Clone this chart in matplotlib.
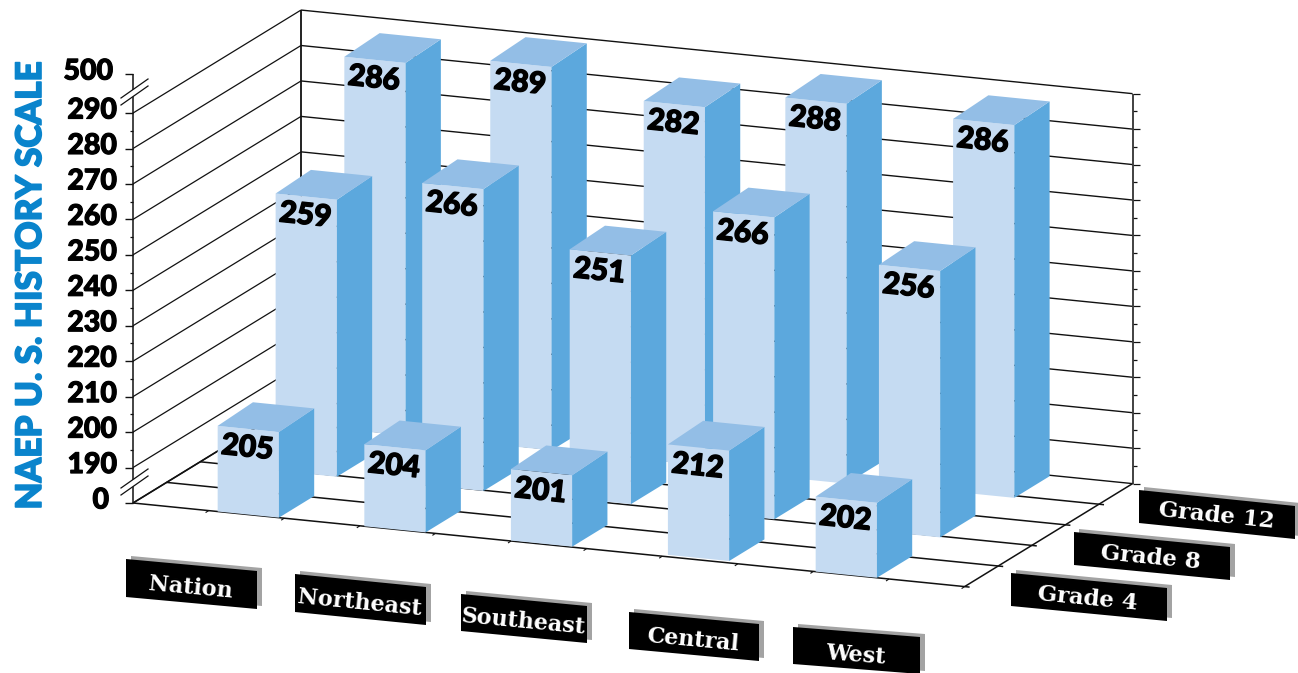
import matplotlib
matplotlib.use("Agg")
import matplotlib.pyplot as plt
import matplotlib.patheffects as pe
import numpy as np
from matplotlib.patches import Polygon

regions = ["Nation", "Northeast", "Southeast", "Central", "West"]
grades = ["Grade 4", "Grade 8", "Grade 12"]
grade4 = [205, 204, 201, 212, 202]
grade8 = [259, 266, 251, 266, 256]
grade12 = [286, 289, 282, 288, 286]
scale_levels = [0, 190, 200, 210, 220, 230, 240, 250, 260, 270, 280, 290, 500]
scale_labels = ["0", "190", "200", "210", "220", "230", "240", "250", "260", "270", "280", "290", "500"]

# where each bar stands on the floor (11 units across, 5 units deep)
across = [
    [1.12, 3.06, 4.99, 7.04, 9.03],
    [1.02, 2.95, 4.87, 6.78, 9.00],
    [1.04, 2.97, 5.00, 6.94, 9.11],
]
deep = [
    [0.0, 0.0, 0.02, 0.08, 0.0],
    [1.95, 1.97, 2.04, 2.01, 1.95],
    [3.95, 3.95, 3.95, 3.80, 3.91],
]

# oblique projection, in image pixels
origin = np.array([133.0, 503.0])
ex = np.array([75.6, 7.6])
ey = np.array([33.6, -20.6])
step = 35.45
scale_pos = [0, 1, 2, 3, 4, 5, 6, 7, 8, 9, 10, 11, 12.1]

front_col = "#C5DBF2"
side_col = "#5CA8DD"
top_col = "#93BEE6"
blue = "#0A84CC"
heavy = dict(family="Lato", fontweight=900)
serif = dict(family="DejaVu Serif", fontweight="bold", color="white")


def pt(u, v, z=0.0):
    p = origin + u * ex + v * ey
    return p[0], p[1] - z


def zpos(value):
    return np.interp(value, scale_levels, scale_pos) * step


def line(ax, a, b, lw=0.9, color="#111111"):
    ax.plot([a[0], b[0]], [a[1], b[1]], color=color, lw=lw, solid_capstyle="butt")


def fat(text, width=1.0):
    text.set_path_effects([pe.withStroke(linewidth=width, foreground=text.get_color())])


def bar(ax, u, v, value):
    w = 0.81
    dv = 1.05
    lift = 2.0  # the box top leans a little more than the floor does
    z = zpos(value) - 3
    ax.add_patch(Polygon([pt(u, v), pt(u + w, v), pt(u + w, v, z), pt(u, v, z)], fc=front_col, ec="none", zorder=3))
    ax.add_patch(Polygon([pt(u + w, v), pt(u + w, v + dv), pt(u + w, v + dv, z + lift), pt(u + w, v, z)],
                         fc=side_col, ec="none", zorder=3))
    ax.add_patch(Polygon([pt(u, v, z), pt(u + w, v, z), pt(u + w, v + dv, z + lift), pt(u, v + dv, z + lift)],
                         fc=top_col, ec="none", zorder=3))
    x, y = pt(u + w / 2, v, z)
    t = ax.text(x - 1, y + 18.5, str(value), ha="center", va="center", rotation=-6, fontsize=21.5,
                color="black", rotation_mode="anchor", zorder=3, **heavy)
    fat(t, 1.0)


def plate(ax, x0, x1, y0, drop, h, text, size, nudge=1.5):
    y1 = y0 + drop
    shadow = [(x0 + 5, y0 - 3), (x1 + 5, y1 - 3), (x1 + 5, y1 + h - 3), (x0 + 5, y0 + h - 3)]
    ax.add_patch(Polygon(shadow, fc="#A3A3A3", ec="none"))
    ax.add_patch(Polygon([(x0, y0), (x1, y1), (x1, y1 + h), (x0, y0 + h)], fc="black", ec="none"))
    rot = -np.degrees(np.arctan2(drop, x1 - x0))
    ax.text((x0 + x1) / 2 - 1, (y0 + y1 + h) / 2 + nudge, text, ha="center", va="center", rotation=rot,
            rotation_mode="anchor", fontsize=size, **serif)


fig = plt.figure(figsize=(12.98, 6.73), dpi=100)
ax = fig.add_axes([0, 0, 1, 1])
ax.set_xlim(0, 1298)
ax.set_ylim(673, 0)
ax.axis("off")

top = 11 * step
# back wall and left wall
for k in range(12):
    z = k * step
    line(ax, pt(0, 5, z), pt(11, 5, z), lw=1.0)
    line(ax, pt(0, 0, z), pt(0, 5, z), lw=0.9)
    a = pt(11, 5, z)
    line(ax, a, (a[0] + 7, a[1]), lw=0.9)
    if k < 11:
        b = pt(11, 5, z + step / 2)
        line(ax, b, (b[0] + 4, b[1]), lw=0.9)
line(ax, pt(0, 5), pt(0, 5, top), lw=1.3)
line(ax, pt(11, 5), pt(11, 5, top), lw=1.3, color="#333333")

# floor
for k in range(5):
    a = pt(11, k)
    line(ax, pt(0, k), (a[0] + 5, a[1] + 0.5), lw=1.1)
line(ax, pt(0, 0), pt(0, 5), lw=1.2)
line(ax, pt(11, 0), pt(11, 5), lw=1.1)
for k in range(1, 12):
    a = pt(k, 0)
    line(ax, a, (a[0] - 3, a[1] + 2), lw=0.8)

# left axis with its two breaks
left_x = pt(0, 0)[0]
line(ax, pt(0, 0), (left_x, pt(0, 0, zpos(500))[1]), lw=1.1)
for value, text in zip(scale_levels, scale_labels):
    y = pt(0, 0, zpos(value))[1]
    line(ax, (left_x - 8, y), (left_x, y), lw=1.0)
    right = {0: 109, 500: 113}.get(value, 117)
    t = ax.text(right, y - 2.5, text, ha="right", va="center", fontsize=20.5, color="black", **heavy)
    fat(t, 0.8)
for k in range(1, 11):
    y = pt(0, 0, (k + 0.5) * step)[1]
    line(ax, (left_x - 3, y), (left_x, y), lw=0.9)
for y0 in (98, 488):
    ax.add_patch(Polygon([(121, y0), (148, y0 - 19), (148, y0 - 12), (121, y0 + 7)], fc="white", ec="none", zorder=3))
    ax.plot([121, 148], [y0, y0 - 19], color="#111111", lw=0.9, zorder=4)
    ax.plot([121, 148], [y0 + 7, y0 - 12], color="#111111", lw=0.9, zorder=4)

# bars, back row first
rows = [grade4, grade8, grade12]
for g in (2, 1, 0):
    for i in range(len(regions)):
        bar(ax, across[g][i], deep[g][i], rows[g][i])

t = ax.text(31, 286, "NAEP U. S. HISTORY SCALE", rotation=90, ha="center", va="center",
            fontsize=25.3, color=blue, **heavy)
fat(t, 1.2)

plate(ax, 126, 257, 559, 12, 38, regions[0], 16, 3.5)
plate(ax, 295, 426, 574, 13, 38, regions[1], 16, 3.5)
plate(ax, 461, 587, 594, 12, 37, regions[2], 16, 3.5)
plate(ax, 629, 759, 612, 12, 37, regions[3], 16, 3.5)
plate(ax, 793, 920, 627, 10, 37, regions[4], 16, 4.5)
plate(ax, 1011, 1167, 573, 15, 33, grades[0], 16.5)
plate(ax, 1074, 1230, 532, 15, 33, grades[1], 16.5)
plate(ax, 1139, 1295, 490, 16, 33, grades[2], 16.5)

fig.savefig("out.png", dpi=100)
